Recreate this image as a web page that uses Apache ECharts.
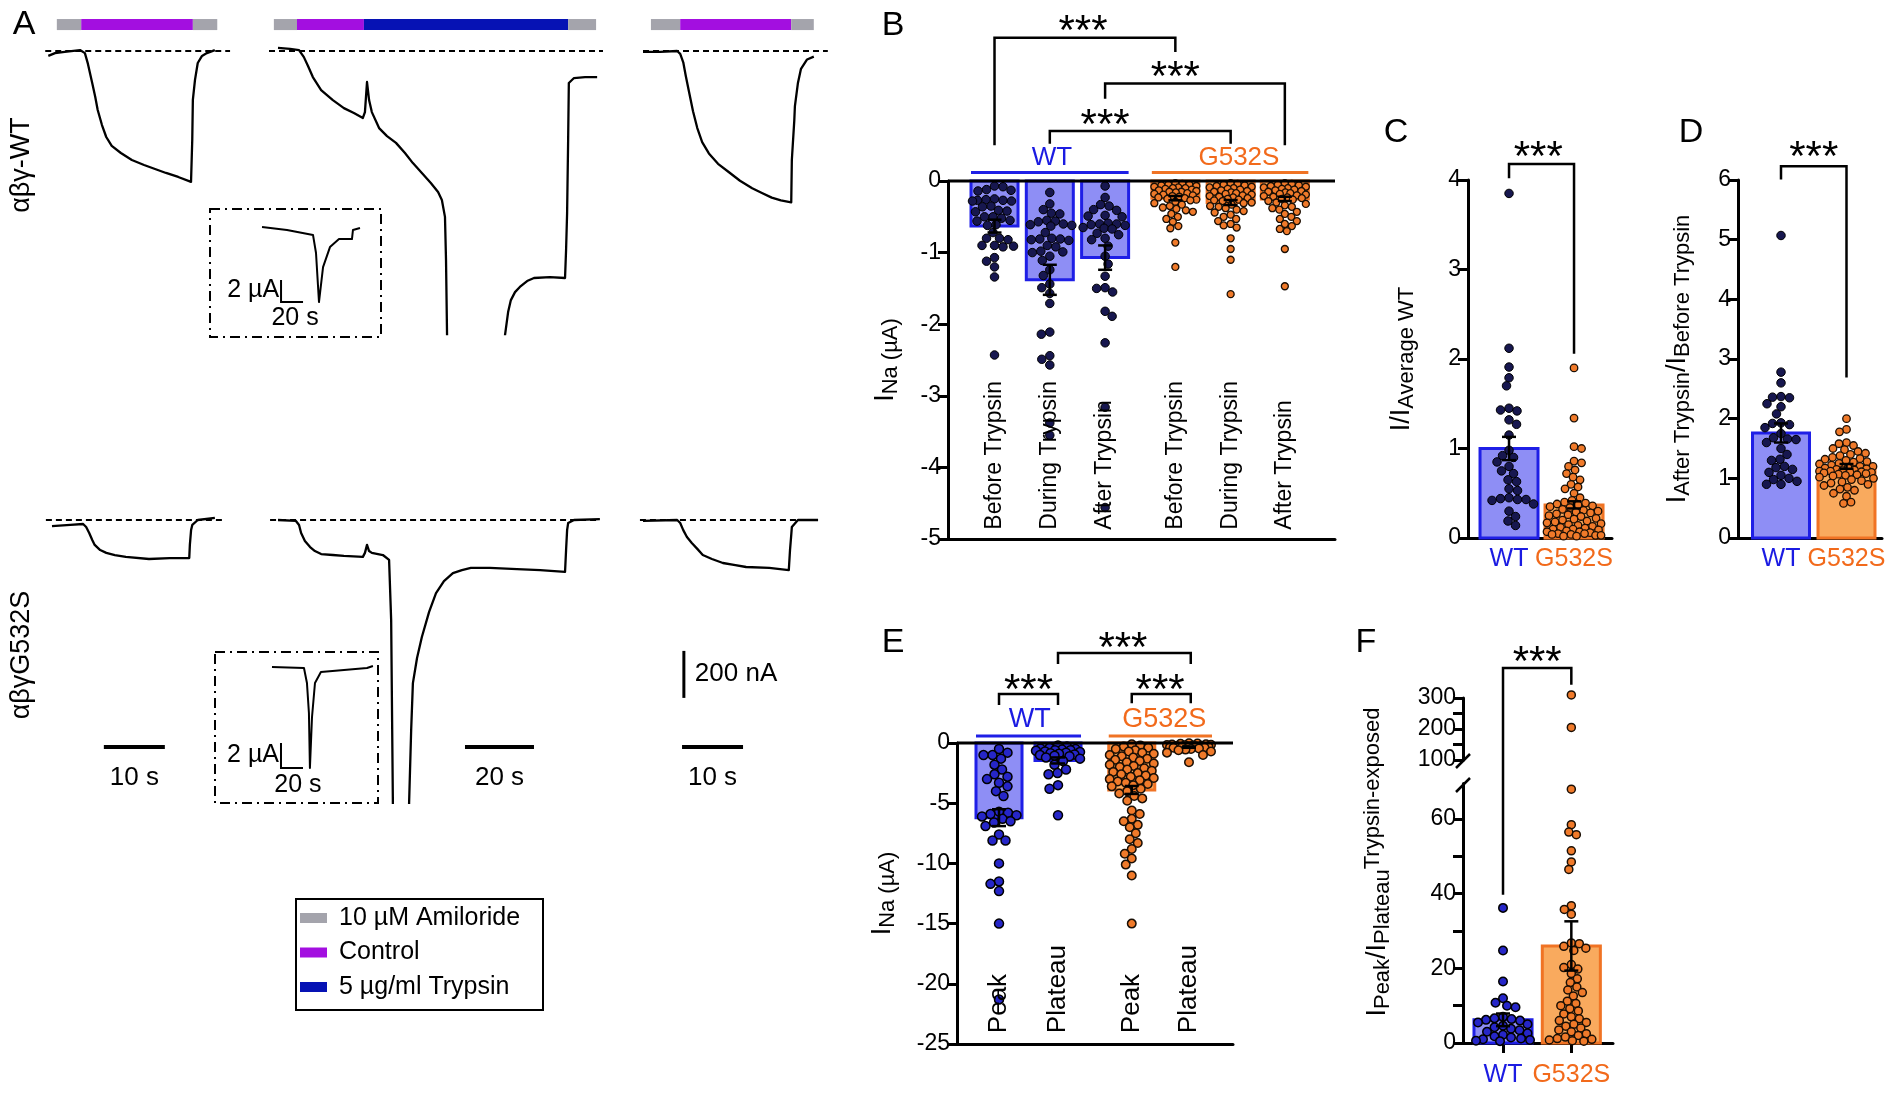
<!DOCTYPE html>
<html><head><meta charset="utf-8">
<script src="https://cdn.jsdelivr.net/npm/echarts@6/dist/echarts.min.js"></script>
<style>html,body{margin:0;padding:0;background:#fff}#c{width:1902px;height:1096px}</style>
</head><body><div id="c"></div>
<script>
// ================= DATA =================
// Panel A traces: [time (s), current (nA)]
const traceWtCtrl1 = [[-1.1,-21],[0,-9],[1.6,-4],[4.1,4],[4.9,-9],[5.4,-55],[6.1,-136],[6.6,-196],[7.0,-251],[7.7,-315],[8.4,-366],[9.3,-404],[10.8,-434],[12.6,-464],[14.6,-485],[16.4,-502],[18.2,-519],[20.2,-536],[22.3,-557],[22.5,-379],[22.6,-208],[22.95,-123],[23.4,-51],[24.1,-21],[24.9,-9],[26.2,4]];
const traceWtTryp = [[0,13],[3.5,9],[6.1,4],[7.5,-26],[8.7,-64],[10.1,-111],[12.5,-166],[15.9,-209],[19.1,-243],[22.0,-264],[24.6,-285],[25.2,-260],[25.8,-132],[26.4,-209],[27.2,-260],[29.3,-328],[31.6,-362],[34.2,-391],[36.8,-434],[39.1,-477],[41.7,-519],[44.3,-562],[46.4,-600],[47.5,-634],[48.4,-706],[48.7,-889],[49.0,-1209],[49.3,-1570],[65.5,-1570],[65.8,-1209],[66.7,-1111],[67.5,-1060],[68.7,-1026],[70.1,-1004],[72.2,-979],[74.2,-966],[78.8,-962],[83.2,-966],[83.5,-847],[83.8,-689],[84.1,-379],[84.3,-136],[85.8,-115],[89.0,-111],[92.5,-111]];
const traceWtCtrl2 = [[0,-4],[2.8,-4],[5.6,0],[6.1,-12],[6.6,-48],[7.0,-104],[7.5,-168],[8.2,-256],[8.9,-328],[9.7,-388],[10.8,-436],[12.3,-480],[14.1,-516],[15.9,-552],[17.9,-584],[19.5,-604],[21.1,-624],[22.6,-636],[24.3,-644],[24.4,-464],[24.8,-296],[24.9,-236],[25.4,-136],[25.9,-76],[26.9,-36],[28.0,-24]];
const traceGCtrl1 = [[0,-26],[3.0,-21],[5.1,-17],[5.6,-30],[6.1,-55],[6.6,-85],[7.0,-106],[7.9,-128],[8.9,-140],[10.3,-149],[12.1,-157],[15.9,-166],[19.3,-162],[22.5,-162],[22.6,-106],[22.8,-43],[23.0,-21],[23.9,0],[26.7,9]];
const traceGTryp = [[0,0],[5.2,-4],[6.1,-21],[6.7,-55],[7.8,-89],[9.3,-115],[10.7,-132],[12.5,-145],[15.9,-149],[19.1,-153],[24.6,-157],[25.2,-140],[25.8,-106],[26.4,-132],[27.2,-140],[30.4,-149],[32.2,-170],[32.8,-426],[33.3,-1204],[33.6,-2043],[37.7,-2043],[38.0,-1204],[38.6,-894],[39.1,-694],[40.3,-587],[41.7,-498],[43.8,-391],[45.8,-311],[48.1,-260],[50.7,-226],[53.3,-213],[55.9,-204],[61.4,-204],[69.3,-209],[76.0,-213],[83.2,-221],[83.5,-128],[83.8,-43],[84.1,-13],[85.8,0],[93.3,4]];
const traceGCtrl2 = [[0,-4],[5.6,0],[6.1,-13],[6.6,-43],[7.2,-72],[8.0,-98],[8.9,-123],[9.8,-149],[11.3,-166],[13.1,-183],[14.9,-191],[16.9,-200],[20.7,-204],[23.9,-213],[24.1,-128],[24.3,-64],[24.4,-30],[25.4,0],[28.7,0]];
// insets: [time (s), current (µA)]
const insetWt = [[0,-0.5],[22.7,-0.77],[46.4,-1.23],[49.1,-2.86],[51.8,-7.32],[55.5,-4.14],[61.8,-2.32],[70.0,-1.59],[81.8,-1.59],[82.7,-0.77],[89.1,-0.59]];
const insetG = [[0,-0.3],[29.1,-0.38],[31.8,-1.58],[33.6,-3.98],[34.5,-8.38],[36.4,-4.3],[39.1,-1.58],[44.5,-0.7],[65.5,-0.54],[86.4,-0.38],[91.8,-0.22]];
// solution protocol bars [start s, end s, solution]
const protoLeft = [[0.3,4.3,'amil'],[4.3,22.6,'ctrl'],[22.6,26.6,'amil']];
const protoMid = [[-1.2,5.5,'amil'],[5.5,24.9,'ctrl'],[24.9,84.1,'tryp'],[84.1,92.2,'amil']];
const protoRight = [[1.3,6.1,'amil'],[6.1,24.3,'ctrl'],[24.3,28.0,'amil']];
const legendItems = [['amil','10 µM Amiloride'],['ctrl','Control'],['tryp','5 µg/ml Trypsin']];

// Panel B (µA)
const catB = ['Before Trypsin','During Trypsin','After Trypsin','Before Trypsin','During Trypsin','After Trypsin'];
const bWtBefore = [-0.07,-0.08,-0.12,-0.13,-0.14,-0.25,-0.26,-0.27,-0.27,-0.28,-0.28,-0.35,-0.36,-0.41,-0.42,-0.43,-0.5,-0.5,-0.52,-0.55,-0.56,-0.61,-0.62,-0.72,-0.8,-0.8,-0.82,-0.9,-0.9,-0.91,-0.92,-1.07,-1.12,-1.2,-1.34,-2.43];
const bWtDuring = [-0.16,-0.32,-0.4,-0.45,-0.46,-0.55,-0.56,-0.57,-0.6,-0.61,-0.62,-0.63,-0.72,-0.8,-0.81,-0.81,-0.82,-0.83,-0.9,-0.92,-0.98,-0.99,-1.0,-1.05,-1.11,-1.24,-1.32,-1.44,-1.49,-1.57,-1.71,-2.11,-2.14,-2.44,-2.49,-2.57,-3.38,-3.55];
const bWtAfter = [-0.07,-0.23,-0.33,-0.35,-0.4,-0.41,-0.48,-0.49,-0.5,-0.59,-0.6,-0.6,-0.61,-0.62,-0.65,-0.66,-0.67,-0.73,-0.75,-0.8,-0.82,-0.91,-1.05,-1.16,-1.33,-1.49,-1.5,-1.55,-1.82,-1.89,-2.26,-3.16,-4.56];
const bGBefore = [-0.03,-0.04,-0.05,-0.05,-0.06,-0.07,-0.08,-0.09,-0.1,-0.1,-0.11,-0.12,-0.13,-0.14,-0.15,-0.15,-0.16,-0.17,-0.18,-0.19,-0.2,-0.21,-0.22,-0.23,-0.24,-0.25,-0.26,-0.27,-0.29,-0.31,-0.33,-0.35,-0.37,-0.39,-0.41,-0.43,-0.46,-0.5,-0.53,-0.57,-0.63,-0.66,-0.86,-1.2];
const bGDuring = [-0.03,-0.04,-0.05,-0.06,-0.07,-0.08,-0.09,-0.1,-0.11,-0.12,-0.13,-0.14,-0.15,-0.16,-0.17,-0.18,-0.19,-0.2,-0.21,-0.22,-0.23,-0.24,-0.25,-0.26,-0.27,-0.28,-0.3,-0.31,-0.33,-0.35,-0.36,-0.38,-0.4,-0.42,-0.44,-0.47,-0.5,-0.53,-0.56,-0.6,-0.62,-0.65,-0.8,-0.95,-1.1,-1.58];
const bGAfter = [-0.03,-0.04,-0.05,-0.06,-0.07,-0.08,-0.09,-0.1,-0.11,-0.12,-0.13,-0.14,-0.15,-0.16,-0.17,-0.18,-0.19,-0.2,-0.21,-0.22,-0.23,-0.24,-0.25,-0.26,-0.28,-0.3,-0.32,-0.34,-0.36,-0.38,-0.4,-0.43,-0.46,-0.5,-0.53,-0.56,-0.6,-0.63,-0.67,-0.7,-0.95,-1.47];
const bMeans = [-0.63,-1.38,-1.07,-0.24,-0.3,-0.25];
const bSem = [0.09,0.21,0.17,0.03,0.035,0.03];

// Panel C (I / I average WT)
const cWt = [3.85,2.12,1.91,1.79,1.7,1.45,1.43,1.42,1.32,1.27,1.15,0.98,0.92,0.9,0.85,0.8,0.75,0.72,0.65,0.63,0.55,0.53,0.45,0.44,0.43,0.43,0.42,0.38,0.3,0.24,0.19,0.14];
const cG = [1.9,1.34,1.02,1.0,0.86,0.84,0.8,0.76,0.72,0.68,0.65,0.6,0.57,0.55,0.5,0.45,0.42,0.4,0.39,0.38,0.37,0.36,0.35,0.34,0.32,0.31,0.3,0.29,0.28,0.27,0.26,0.25,0.24,0.22,0.21,0.2,0.19,0.18,0.17,0.16,0.15,0.14,0.13,0.12,0.11,0.1,0.1,0.09,0.08,0.07,0.07,0.06,0.05,0.05,0.04,0.04,0.03,0.03,0.02,0.02];
const cMeans = [1.0,0.37];
const cSem = [0.13,0.04];

// Panel D (I after / I before trypsin)
const dWt = [5.07,2.78,2.6,2.37,2.36,2.35,2.25,2.2,2.08,1.93,1.92,1.9,1.85,1.75,1.68,1.66,1.65,1.6,1.5,1.4,1.32,1.3,1.2,1.18,1.15,1.1,1.05,1.0,0.98,0.95,0.9,0.9];
const dG = [2.0,1.82,1.78,1.6,1.58,1.55,1.5,1.48,1.45,1.42,1.4,1.38,1.35,1.33,1.32,1.3,1.28,1.27,1.25,1.24,1.22,1.2,1.2,1.18,1.17,1.16,1.15,1.14,1.13,1.12,1.12,1.11,1.1,1.1,1.09,1.08,1.07,1.06,1.05,1.04,1.02,1.0,0.98,0.96,0.94,0.92,0.9,0.88,0.85,0.82,0.8,0.75,0.7,0.6,0.58];
const dMeans = [1.76,1.2];
const dSem = [0.16,0.04];

// Panel E (µA)
const catE = ['Peak','Plateau','Peak','Plateau'];
const eWtPeak = [-0.5,-0.8,-1.0,-1.0,-1.3,-1.8,-2.2,-2.6,-2.8,-3.0,-3.3,-3.6,-4.0,-4.4,-5.7,-5.8,-5.9,-6.0,-6.1,-6.3,-6.5,-6.6,-6.9,-7.6,-8.1,-8.1,-10.0,-11.5,-11.7,-12.3,-15.0,-21.3];
const eWtPlat = [-0.2,-0.3,-0.4,-0.45,-0.5,-0.55,-0.6,-0.6,-0.65,-0.7,-0.75,-0.8,-0.85,-0.9,-0.95,-1.0,-1.05,-1.1,-1.2,-1.3,-1.5,-1.8,-2.2,-2.5,-2.6,-3.5,-3.8,-6.0];
const eGPeak = [-0.1,-0.2,-0.3,-0.4,-0.5,-0.6,-0.7,-0.8,-0.9,-1.0,-1.1,-1.2,-1.3,-1.4,-1.5,-1.6,-1.7,-1.8,-1.9,-2.0,-2.1,-2.2,-2.3,-2.4,-2.5,-2.6,-2.7,-2.8,-2.9,-3.0,-3.1,-3.2,-3.3,-3.4,-3.5,-3.6,-3.8,-4.0,-4.2,-4.4,-4.6,-4.8,-5.6,-5.9,-6.3,-6.5,-6.8,-7.0,-7.5,-8.0,-8.3,-8.8,-9.2,-9.6,-10.1,-11.0,-15.0];
const eGPlat = [-0.02,-0.05,-0.07,-0.1,-0.12,-0.14,-0.16,-0.18,-0.2,-0.22,-0.24,-0.26,-0.28,-0.3,-0.32,-0.35,-0.38,-0.4,-0.45,-0.5,-0.55,-0.6,-0.7,-0.8,-1.0,-1.6];
const eMeans = [-6.2,-1.45,-3.9,-0.35];
const eSem = [0.7,0.25,0.33,0.05];

// Panel F (I peak / I plateau)
const fWt = [36.2,24.8,16.5,12.0,10.8,10.0,9.6,7.0,6.6,6.4,6.2,6.0,5.5,5.0,4.6,4.2,3.8,3.4,3.0,2.6,2.2,1.8,1.5,1.2,1.0,0.8,0.6,0.5];
const fG = [310,205,68,58.5,56.5,55.8,51.5,48.5,46.5,36.8,35.8,34.5,26.8,26.6,25.9,25.4,24.8,21.0,20.2,19.8,18.6,17.2,16.2,15.0,14.2,13.5,12.6,11.2,10.6,10.0,9.2,8.6,7.8,7.0,6.5,6.0,5.5,5.0,4.5,4.0,3.5,3.0,2.5,2.0,1.6,1.2,1.0,0.8,0.6,0.5];
const fMeans = [6.2,26.0];
const fSem = [1.7,6.6];
const fTicksLow = [0,10,20,30,40,50,60];
const fLabelsLow = [0,20,40,60];
const fTicksHigh = [100,150,200,250,300];
const fLabelsHigh = [100,200,300];

// ================= STYLE / LAYOUT =================
const FF = "'Liberation Sans', Arial, Helvetica, sans-serif";
const PROTO_COL = {amil:'#a4a4ac', ctrl:'#a30fe0', tryp:'#0612b4'};
const WT_FILL='#8e8ef5', WT_EDGE='#1f1fe6', G_FILL='#f9aa5e', G_EDGE='#f07324';
const WT_TXT='#1b1be2', G_TXT='#f26a1b';
const WT_DOT_DARK='#17174f', WT_DOT_BLUE='#2626c8', G_DOT='#f07a2a', DOT_EDGE='#1a0f05';
const TICK_FS = 23, STAR_FS = 42;

const grids=[], xAxes=[], yAxes=[], series=[];
function addGrid(l,t,w,h,xr,yr,xo,yo,go){
  const i=grids.length;
  grids.push(Object.assign({left:l,top:t,width:w,height:h,containLabel:false,show:false},go||{}));
  xAxes.push(Object.assign({type:'value',gridIndex:i,min:xr[0],max:xr[1],show:false,splitLine:{show:false}},xo||{}));
  yAxes.push(Object.assign({type:'value',gridIndex:i,min:yr[0],max:yr[1],show:false,splitLine:{show:false}},yo||{}));
  return i;
}
function addLine(g,data,style,z){
  series.push({type:'line',xAxisIndex:g,yAxisIndex:g,data:data,symbol:'none',silent:true,clip:true,z:z||3,animation:false,
    lineStyle:Object.assign({color:'#000',width:2.3,join:'round'},style||{})});
}
function renderAnn(it, api){
  if(it.k==='line'){
    const pts=it.pts.map(q=>api.coord(q));
    return {type:'polyline',shape:{points:pts},style:{stroke:it.c||'#000',lineWidth:it.w||2.5,lineDash:it.dash||null,lineCap:'butt',lineJoin:'miter',fill:null}};
  }
  if(it.k==='text'){
    const a=api.coord(it.at);
    return {type:'text',x:a[0]+(it.dx||0),y:a[1]+(it.dy||0),rotation:it.rot||0,
      style:{text:it.t,fill:it.c||'#000',fontSize:it.fs||22,fontFamily:FF,align:it.al||'center',verticalAlign:it.va||'middle'}};
  }
}
function annot(g, items){
  series.push({type:'custom',xAxisIndex:g,yAxisIndex:g,clip:false,silent:true,z:6,animation:false,
    data: items.map(it=> it.k==='line'? it.pts[0] : it.at),
    renderItem:(p,api)=>renderAnn(items[p.dataIndex],api)});
}
function addProto(g, proto, top, bot){
  series.push({type:'custom',xAxisIndex:g,yAxisIndex:g,clip:false,silent:true,z:4,animation:false,
    data: proto.map(s=>[s[0],s[1]]),
    renderItem:(p,api)=>{
      const s=proto[p.dataIndex];
      const a=api.coord([s[0],top]), b=api.coord([s[1],bot]);
      return {type:'rect',shape:{x:a[0],y:a[1],width:b[0]-a[0],height:b[1]-a[1]},style:{fill:PROTO_COL[s[2]]}};
    }});
}
function addBars(g,pos,means,hw,fills,edges){
  series.push({type:'custom',xAxisIndex:g,yAxisIndex:g,clip:false,silent:true,z:2,animation:false,
    data: means.map((m,i)=>[pos[i],m]),
    renderItem:(p,api)=>{
      const x=api.value(0), m=api.value(1);
      const a=api.coord([x-hw,0]), b=api.coord([x+hw,m]);
      return {type:'rect',shape:{x:a[0],y:Math.min(a[1],b[1]),width:b[0]-a[0],height:Math.abs(b[1]-a[1])},
        style:{fill:fills[p.dataIndex],stroke:edges[p.dataIndex],lineWidth:3}};
    }});
}
function addErr(g,pos,means,sems){
  series.push({type:'custom',xAxisIndex:g,yAxisIndex:g,clip:false,silent:true,z:5,animation:false,
    data: means.map((m,i)=>[pos[i],m,sems[i]]),
    renderItem:(p,api)=>{
      const x=api.value(0), m=api.value(1), s=api.value(2);
      const t=api.coord([x,m+s]), b=api.coord([x,m-s]);
      const cw=7, st={stroke:'#000',lineWidth:2.5};
      return {type:'group',children:[
        {type:'line',shape:{x1:t[0],y1:t[1],x2:b[0],y2:b[1]},style:st},
        {type:'line',shape:{x1:t[0]-cw,y1:t[1],x2:t[0]+cw,y2:t[1]},style:st},
        {type:'line',shape:{x1:b[0]-cw,y1:b[1],x2:b[0]+cw,y2:b[1]},style:st}]};
    }});
}
// beeswarm offsets (px) computed from values, limited to +-cap px
function swarm(vals, pxY, d, cap){
  const order=vals.map((v,i)=>i).sort((a,b)=>vals[b]-vals[a]);
  const placed=[], off=new Array(vals.length).fill(0);
  order.forEach((i,k)=>{
    const y=vals[i]*pxY; let best=null;
    const sides=(k%2)?[1,-1]:[-1,1];
    for(let m=0;m<=cap && best===null;m+=0.5){
      for(const s of sides){
        const x=s*m;
        if(placed.every(q=>(q.x-x)*(q.x-x)+(q.y-y)*(q.y-y)>=d*d)){best=x;break;}
      }
    }
    if(best===null){
      let bd=-1; best=0;
      for(let x=-cap;x<=cap;x+=0.5){
        let md=1e9; placed.forEach(q=>{const dd=Math.hypot(q.x-x,q.y-y); if(dd<md)md=dd;});
        if(md>bd){bd=md;best=x;}
      }
    }
    off[i]=best; placed.push({x:best,y:y});
  });
  return off;
}
function addDots(g,pos,vals,pxX,pxY,size,fill,edge,bw,cap){
  const off=swarm(vals,pxY,size*0.98,cap);
  series.push({type:'scatter',xAxisIndex:g,yAxisIndex:g,silent:true,z:3,animation:false,clip:false,
    symbol:'circle',symbolSize:size,
    itemStyle:{color:fill,borderColor:edge,borderWidth:bw,opacity:1},
    data: vals.map((v,i)=>[pos+off[i]/pxX, v])});
}
const yStyle=(extra)=>Object.assign({
  show:true, splitLine:{show:false},
  axisLine:{show:true,onZero:false,lineStyle:{color:'#000',width:3}},
  axisTick:{show:true,length:10,lineStyle:{color:'#000',width:3}},
  axisLabel:{show:true,color:'#000',fontSize:TICK_FS,fontFamily:FF,margin:7}
}, extra||{});
const xLine=(extra)=>Object.assign({
  show:true, position:'bottom', splitLine:{show:false},
  axisLine:{show:true,onZero:false,lineStyle:{color:'#000',width:3}},
  axisTick:{show:false}, axisLabel:{show:false}
}, extra||{});
const titleRich = {
  i:{fontSize:27,fontFamily:FF,color:'#000',lineHeight:32},
  s:{fontSize:22,fontFamily:FF,color:'#000',lineHeight:16,verticalAlign:'bottom'},
  u:{fontSize:22,fontFamily:FF,color:'#000',lineHeight:20,verticalAlign:'top'}
};
const wtgLabel = {customValues:[1,2],fontFamily:FF,
  formatter:(v)=> v===1?'{w|WT}':'{g|G532S}',
  rich:{w:{color:WT_TXT,fontSize:25,fontFamily:FF},g:{color:G_TXT,fontSize:25,fontFamily:FF}}};
const stars=(at)=>({k:'text',t:'***',at:at,fs:STAR_FS,dy:0.28*STAR_FS});

// ================= PANEL A =================
const PPN=0.235; // px per nA
function traceGrid(x0,tr,pps,y0,ir){
  return addGrid(x0+tr[0]*pps, y0-ir[1]*PPN, (tr[1]-tr[0])*pps, (ir[1]-ir[0])*PPN, tr, ir);
}
const gTL=traceGrid(55,[-2,30],6.1,51,[-1205,60]);
const gTM=traceGrid(278,[-3,95],3.45,51,[-1205,60]);
const gTR=traceGrid(643,[-1,31],6.1,51,[-1205,60]);
const gBL=traceGrid(52,[-2,30],6.1,520,[-1204,60]);
const gBM=traceGrid(278,[-3,95],3.45,520,[-1204,60]);
const gBR=traceGrid(643,[-1,31],6.1,520,[-1204,60]);
const dashStyle={type:[6,4],width:2};
addLine(gTL,[[-1.6,0],[28.7,0]],dashStyle,2);
addLine(gTM,[[-2.6,0],[94.2,0]],dashStyle,2);
addLine(gTR,[[0,0],[30.3,0]],dashStyle,2);
addLine(gBL,[[-1.0,0],[28.5,0]],dashStyle,2);
addLine(gBM,[[-2.3,0],[93.3,0]],dashStyle,2);
addLine(gBR,[[-0.5,0],[29.0,0]],dashStyle,2);
addLine(gTL,traceWtCtrl1); addLine(gTM,traceWtTryp); addLine(gTR,traceWtCtrl2);
addLine(gBL,traceGCtrl1); addLine(gBM,traceGTryp); addLine(gBR,traceGCtrl2);
addProto(gTL,protoLeft,136,89); addProto(gTM,protoMid,136,89); addProto(gTR,protoRight,136,89);
// scale bars
annot(gBL,[{k:'line',pts:[[8.5,-966],[18.5,-966]],w:4},{k:'text',t:'10 s',at:[13.5,-1098],fs:26}]);
annot(gBM,[{k:'line',pts:[[54.2,-966],[74.2,-966]],w:4},{k:'text',t:'20 s',at:[64.2,-1098],fs:26}]);
annot(gBR,[{k:'line',pts:[[6.4,-966],[16.4,-966]],w:4},{k:'text',t:'10 s',at:[11.4,-1098],fs:26},
  {k:'line',pts:[[6.7,-557],[6.7,-757]],w:3},{k:'text',t:'200 nA',at:[8.5,-655],fs:26,al:'left'}]);
// insets
const insetBox={show:true,borderColor:'#000',borderWidth:2,borderType:[10,5,2,5],backgroundColor:'transparent'};
const gIW=addGrid(210,209,171,128,[-47.3,108.2],[-10.5,1.14],null,null,insetBox);
const gIG=addGrid(215,652,163,151,[-51.8,96.4],[-11.18,0.9],null,null,insetBox);
addLine(gIW,insetWt,{width:2}); addLine(gIG,insetG,{width:2});
annot(gIW,[{k:'line',pts:[[17.3,-5.32],[17.3,-7.32],[37.3,-7.32]],w:2},{k:'text',t:'2 µA',at:[15.5,-6.23],fs:25,al:'right'},{k:'text',t:'20 s',at:[30,-8.77],fs:25}]);
annot(gIG,[{k:'line',pts:[[8.2,-6.38],[8.2,-8.38],[28.2,-8.38]],w:2},{k:'text',t:'2 µA',at:[6.4,-7.34],fs:25,al:'right'},{k:'text',t:'20 s',at:[23.6,-9.74],fs:25}]);

// ================= PANEL B =================
const posB=[1,2,3,4.27,5.27,6.25], uB=55.3, hwB=0.425;
const gB=addGrid(948,181,387,358,[0.159,7.157],[-5,0],xLine(),
  yStyle({interval:1,name:'{i|I}{s|Na (µA)}',nameLocation:'middle',nameRotate:90,nameGap:46,nameTextStyle:{rich:titleRich}}));
addBars(gB,posB,bMeans,hwB,[WT_FILL,WT_FILL,WT_FILL,G_FILL,G_FILL,G_FILL],[WT_EDGE,WT_EDGE,WT_EDGE,G_EDGE,G_EDGE,G_EDGE]);
[bWtBefore,bWtDuring,bWtAfter].forEach((v,i)=>addDots(gB,posB[i],v,uB,71.6,8.5,WT_DOT_DARK,'#000',1,22));
[bGBefore,bGDuring,bGAfter].forEach((v,i)=>addDots(gB,posB[i+3],v,uB,71.6,7,G_DOT,DOT_EDGE,1.3,21));
addErr(gB,posB,bMeans,bSem);
annot(gB,[
  {k:'line',pts:[[0.159,0],[7.157,0]],w:3},
  {k:'line',pts:[[1,0.5],[1,2.0],[4.27,2.0],[4.27,1.8]]},
  {k:'line',pts:[[3,1.15],[3,1.36],[6.25,1.36],[6.25,0.5]]},
  {k:'line',pts:[[2,0.52],[2,0.7],[5.27,0.7],[5.27,0.52]]},
  stars([2.6,2.24]), stars([4.27,1.59]), stars([3.0,0.92]),
  {k:'line',pts:[[1-hwB,0.12],[3+hwB,0.12]],c:WT_EDGE,w:3},
  {k:'line',pts:[[4.27-hwB,0.12],[6.25+hwB,0.12]],c:G_EDGE,w:3},
  {k:'text',t:'WT',at:[2.04,0.32],fs:26,c:WT_TXT},
  {k:'text',t:'G532S',at:[5.42,0.32],fs:26,c:G_TXT}
].concat(catB.map((c,i)=>({k:'text',t:c,at:[posB[i],-4.87],rot:Math.PI/2,al:'left',fs:23}))));

// ================= PANEL C =================
const gC=addGrid(1468,180,144,358,[0.369,2.584],[0,4],
  xLine({axisLabel:Object.assign({show:true,margin:9},wtgLabel)}),
  yStyle({interval:1,name:'{i|I/I}{s|Average WT}',nameLocation:'middle',nameRotate:90,nameGap:50,nameTextStyle:{rich:titleRich}}));
addBars(gC,[1,2],cMeans,0.446,[WT_FILL,G_FILL],[WT_EDGE,G_EDGE]);
addDots(gC,1,cWt,65,89.5,8.5,WT_DOT_DARK,'#000',1,27);
addDots(gC,2,cG,65,89.5,7.5,G_DOT,DOT_EDGE,1.3,27);
addErr(gC,[1,2],cMeans,cSem);
annot(gC,[{k:'line',pts:[[1,4.02],[1,4.18],[2,4.18],[2,2.06]]},stars([1.45,4.37])]);

// ================= PANEL D =================
const gD=addGrid(1738,180,144,358,[0.3435,2.542],[0,6],
  xLine({axisLabel:Object.assign({show:true,margin:9},wtgLabel)}),
  yStyle({interval:1,name:'{i|I}{s|After Trypsin}{i|/I}{s|Before Trypsin}',nameLocation:'middle',nameRotate:90,nameGap:44,nameTextStyle:{rich:titleRich}}));
addBars(gD,[1,2],dMeans,0.435,[WT_FILL,G_FILL],[WT_EDGE,G_EDGE]);
addDots(gD,1,dWt,65.5,59.67,8.5,WT_DOT_DARK,'#000',1,27);
addDots(gD,2,dG,65.5,59.67,7.5,G_DOT,DOT_EDGE,1.3,27);
addErr(gD,[1,2],dMeans,dSem);
annot(gD,[{k:'line',pts:[[1,6.01],[1,6.23],[2,6.23],[2,2.69]]},stars([1.5,6.56])]);

// ================= PANEL E =================
const posE=[1,2,3.25,4.22], hwE=0.39;
const gE=addGrid(957,743,276,301,[0.288,4.966],[-25,0],xLine(),
  yStyle({interval:5,name:'{i|I}{s|Na (µA)}',nameLocation:'middle',nameRotate:90,nameGap:58,nameTextStyle:{rich:titleRich}}));
addBars(gE,posE,eMeans,hwE,[WT_FILL,WT_FILL,G_FILL,G_FILL],[WT_EDGE,WT_EDGE,G_EDGE,G_EDGE]);
addDots(gE,posE[0],eWtPeak,59,12.04,9,WT_DOT_BLUE,'#000',1.5,22);
addDots(gE,posE[1],eWtPlat,59,12.04,9,WT_DOT_BLUE,'#000',1.5,22);
addDots(gE,posE[2],eGPeak,59,12.04,8.5,G_DOT,DOT_EDGE,1.5,22);
addDots(gE,posE[3],eGPlat,59,12.04,8.5,G_DOT,DOT_EDGE,1.5,22);
addErr(gE,posE,eMeans,eSem);
annot(gE,[
  {k:'line',pts:[[0.288,0],[4.966,0]],w:3},
  {k:'line',pts:[[1,3.16],[1,4.07],[2,4.07],[2,3.16]]},
  {k:'line',pts:[[3.25,3.3],[3.25,4.07],[4.25,4.07],[4.25,3.3]]},
  {k:'line',pts:[[2,6.56],[2,7.47],[4.25,7.47],[4.25,6.56]]},
  stars([1.5,5.3]), stars([3.73,5.3]), stars([3.1,8.72]),
  {k:'line',pts:[[1-hwE,0.58],[2+hwE,0.58]],c:WT_EDGE,w:3},
  {k:'line',pts:[[3.25-hwE,0.58],[4.22+hwE,0.58]],c:G_EDGE,w:3},
  {k:'text',t:'WT',at:[1.52,1.91],fs:27,c:WT_TXT},
  {k:'text',t:'G532S',at:[3.8,1.91],fs:27,c:G_TXT}
].concat(catE.map((c,i)=>({k:'text',t:c,at:[posE[i],-24.1],rot:Math.PI/2,al:'left',fs:26}))));

// ================= PANEL F =================
const gF=addGrid(1463,783.6,150,259.4,[0.4143,2.61],[0,69.5],
  xLine({axisTick:{show:true,customValues:[1,2],length:10,lineStyle:{color:'#000',width:3}},axisLabel:Object.assign({show:true,margin:20},wtgLabel)}),
  yStyle({axisTick:{show:true,customValues:fTicksLow,length:10,lineStyle:{color:'#000',width:3}},
          axisLabel:{show:true,customValues:fLabelsLow,color:'#000',fontSize:TICK_FS,fontFamily:FF,margin:7}}));
const gFu=addGrid(1463,698,150,62,[0.4143,2.61],[100,300],null,
  yStyle({axisTick:{show:true,customValues:fTicksHigh,length:10,lineStyle:{color:'#000',width:3}},
          axisLabel:{show:true,customValues:fLabelsHigh,color:'#000',fontSize:TICK_FS,fontFamily:FF,margin:7}}));
addBars(gF,[1,2],fMeans,0.425,[WT_FILL,G_FILL],[WT_EDGE,G_EDGE]);
addDots(gF,1,fWt,68.3,3.733,8.5,WT_DOT_BLUE,'#000',1.5,27);
addDots(gF,2,fG.filter(v=>v<100),68.3,3.733,8,G_DOT,DOT_EDGE,1.5,27);
addDots(gFu,2,fG.filter(v=>v>=100),68.3,0.31,8,G_DOT,DOT_EDGE,1.5,27);
addErr(gF,[1,2],fMeans,fSem);
annot(gF,[{k:'line',pts:[[1,39.7],[1,100.5],[2,100.5],[2,96]]},stars([1.5,104.8])]);

// ================= GRAPHIC (labels, legend) =================
const txtStyle=(t,fs,al)=>({text:t,fontSize:fs,fontFamily:FF,fill:'#000',align:al||'center',verticalAlign:'middle',textAlign:al||'center',textVerticalAlign:'middle'});
const letter=(t,x,y)=>({type:'text',x:x,y:y,style:txtStyle(t,34)});
const graphic=[
  letter('A',24,25), letter('B',893,26), letter('C',1396,133), letter('D',1691,133), letter('E',893,643), letter('F',1366,643),
  {type:'text',x:22,y:165,rotation:Math.PI/2,style:txtStyle('αβγ-WT',27)},
  {type:'text',x:22,y:655,rotation:Math.PI/2,style:txtStyle('αβγG532S',27)},
  {type:'text',x:1378,y:862,rotation:Math.PI/2,style:{text:'{i|I}{s|Peak}{i|/I}{s|Plateau}{u|Trypsin-exposed}',rich:titleRich,align:'center',verticalAlign:'middle',textAlign:'center',textVerticalAlign:'middle'}},
  {type:'line',shape:{x1:1456,y1:792,x2:1470,y2:778},style:{stroke:'#000',lineWidth:2.5}},
  {type:'line',shape:{x1:1456,y1:768,x2:1470,y2:754},style:{stroke:'#000',lineWidth:2.5}},
  {type:'rect',shape:{x:296,y:899,width:247,height:111},style:{fill:'#fff',stroke:'#000',lineWidth:2}}
];
legendItems.forEach((it,i)=>{
  const yc=918+i*34.5;
  graphic.push({type:'rect',shape:{x:300,y:yc-5,width:27,height:10},style:{fill:PROTO_COL[it[0]]}});
  graphic.push({type:'text',x:339,y:yc,style:txtStyle(it[1],25,'left')});
});

const chart=echarts.init(document.getElementById('c'),null,{renderer:'canvas'});
chart.setOption({animation:false,backgroundColor:'#fff',textStyle:{fontFamily:FF},
  grid:grids,xAxis:xAxes,yAxis:yAxes,series:series,graphic:graphic});
</script></body></html>
